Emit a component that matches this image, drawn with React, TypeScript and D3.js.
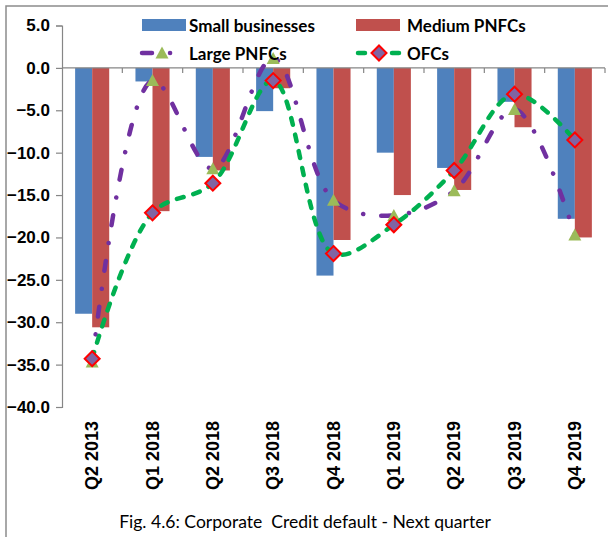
import React, { useEffect, useRef } from 'react';
import * as d3 from 'd3';

const categories = ['Q2 2013', 'Q1 2018', 'Q2 2018', 'Q3 2018', 'Q4 2018', 'Q1 2019', 'Q2 2019', 'Q3 2019', 'Q4 2019'];
const smallBusinesses = [-29.0, -1.6, -10.5, -5.1, -24.5, -10.0, -11.8, -4.0, -17.8];
const mediumPNFCs = [-30.6, -16.9, -12.1, -2.4, -20.3, -15.0, -14.4, -7.0, -20.0];
const largePNFCs = [-34.7, -1.5, -11.9, 1.1, -15.6, -17.4, -14.5, -4.9, -19.7];
const ofcs = [-34.3, -17.1, -13.6, -1.5, -21.9, -18.5, -12.1, -3.1, -8.5];
const yTicks = [5, 0, -5, -10, -15, -20, -25, -30, -35, -40];
const title = 'Fig. 4.6: Corporate  Credit default - Next quarter';

const W = 608;
const H = 537;
const humanist = 'Lato, "Open Sans", sans-serif';
const wide = '"Liberation Sans", Arial, sans-serif';

// shrink / grow a text so it spans the width seen in the reference
const fitWidth = (sel: any, target: number) => {
  const node = sel.node() as SVGTextElement;
  const w = node.getComputedTextLength();
  const fs = +sel.attr('font-size');
  if (w > 0) sel.attr('font-size', (fs * target) / w);
  return +sel.attr('font-size');
};

const App = () => {
  const svgRef = useRef<SVGSVGElement>(null);

  useEffect(() => {
    const svg = d3.select(svgRef.current);
    svg.selectAll('*').remove();

    const margin = { top: 25.5, right: 3, bottom: 130, left: 62 };

    // frame of the chart area
    svg.append('rect')
      .attr('x', 6).attr('y', 6)
      .attr('width', 640).attr('height', 600)
      .attr('fill', 'white')
      .attr('stroke', '#8c8c8c')
      .attr('stroke-width', 1.5);

    const x = d3.scaleBand()
      .domain(categories)
      .range([margin.left, W - margin.right]);
    const x1 = d3.scaleBand()
      .domain(['small', 'medium'])
      .range([0, x.bandwidth()])
      .paddingOuter(0.77);
    const y = d3.scaleLinear()
      .domain([5, -40])
      .range([margin.top, H - margin.bottom]);

    const cx = (c: string) => (x(c) as number) + x.bandwidth() / 2;

    // bars
    const bars = svg.append('g');
    const barSeries = [
      { key: 'small', values: smallBusinesses, color: '#4F81BD' },
      { key: 'medium', values: mediumPNFCs, color: '#C0504D' },
    ];
    barSeries.forEach(s => {
      bars.selectAll(null)
        .data(s.values)
        .enter()
        .append('rect')
        .attr('x', (d, i) => (x(categories[i]) as number) + (x1(s.key) as number))
        .attr('width', x1.bandwidth())
        .attr('y', d => Math.min(y(0), y(d)))
        .attr('height', d => Math.abs(y(d) - y(0)))
        .attr('fill', s.color);
    });

    // y axis
    const yAxis = d3.axisLeft(y).tickValues(yTicks).tickSize(6).tickPadding(5).tickFormat(d3.format('.1f'));
    const yg = svg.append('g')
      .attr('transform', `translate(${margin.left},0)`)
      .call(yAxis);
    yg.selectAll('path, line').attr('stroke', '#868686').attr('stroke-width', 1.2);
    yg.selectAll('text')
      .attr('font-family', wide)
      .attr('font-weight', 'bold')
      .attr('font-size', 17)
      .attr('fill', '#000')
      .attr('x', -12);

    // x axis along zero
    const xg = svg.append('g');
    xg.append('line')
      .attr('x1', margin.left).attr('x2', W - margin.right)
      .attr('y1', y(0)).attr('y2', y(0))
      .attr('stroke', '#868686').attr('stroke-width', 1.2);
    xg.selectAll('line.tick')
      .data(categories)
      .enter()
      .append('line')
      .attr('class', 'tick')
      .attr('x1', d => (x(d) as number) + x.bandwidth())
      .attr('x2', d => (x(d) as number) + x.bandwidth())
      .attr('y1', y(0)).attr('y2', y(0) + 5)
      .attr('stroke', '#868686').attr('stroke-width', 1.2);

    // category labels at the bottom
    svg.append('g')
      .selectAll('text')
      .data(categories)
      .enter()
      .append('text')
      .attr('transform', d => `translate(${cx(d) + 6},490) rotate(-90)`)
      .attr('font-family', wide)
      .attr('font-weight', 'bold')
      .attr('font-size', 18)
      .attr('fill', '#000')
      .text(d => d);

    // lines
    const line = d3.line<number>()
      .x((d, i) => cx(categories[i]))
      .y(d => y(d))
      .curve(d3.curveCatmullRom.alpha(0.5));

    svg.append('path')
      .datum(largePNFCs)
      .attr('d', line)
      .attr('fill', 'none')
      .attr('stroke', '#7030A0')
      .attr('stroke-width', 4.5)
      .attr('stroke-linecap', 'round')
      .attr('stroke-dasharray', '10 18 0.1 18');

    const tri = 'M0,-6.5L6.5,5.5L-6.5,5.5Z';
    const dia = 'M0,-7.5L7.5,0L0,7.5L-7.5,0Z';

    svg.append('g')
      .selectAll('path')
      .data(largePNFCs)
      .enter()
      .append('path')
      .attr('d', tri)
      .attr('transform', (d, i) => `translate(${cx(categories[i])},${y(d)})`)
      .attr('fill', '#9BBB59');

    svg.append('path')
      .datum(ofcs)
      .attr('d', line)
      .attr('fill', 'none')
      .attr('stroke', '#00B050')
      .attr('stroke-width', 4.5)
      .attr('stroke-linecap', 'round')
      .attr('stroke-dasharray', '7 10');

    svg.append('g')
      .selectAll('path')
      .data(ofcs)
      .enter()
      .append('path')
      .attr('d', dia)
      .attr('transform', (d, i) => `translate(${cx(categories[i])},${y(d)})`)
      .attr('fill', '#8064A2')
      .attr('stroke', '#FF0000')
      .attr('stroke-width', 2);

    // legend
    const legend = svg.append('g');
    const items = [
      { label: 'Small businesses', x: 142, y: 25, tx: 47, kind: 'bar', color: '#4F81BD' },
      { label: 'Medium PNFCs', x: 356, y: 25, tx: 51, kind: 'bar', color: '#C0504D' },
      { label: 'Large PNFCs', x: 140, y: 53, tx: 49, kind: 'large', color: '#7030A0' },
      { label: 'OFCs', x: 356, y: 53, tx: 51, kind: 'ofc', color: '#00B050' },
    ];
    let legendSize = 18;
    items.forEach((it, k) => {
      const g = legend.append('g').attr('transform', `translate(${it.x},${it.y})`);
      if (it.kind === 'bar') {
        g.append('rect').attr('x', 0).attr('y', -6).attr('width', 44).attr('height', 12).attr('fill', it.color);
      } else if (it.kind === 'large') {
        g.append('line').attr('x1', 2).attr('x2', 44).attr('y1', 0).attr('y2', 0)
          .attr('stroke', it.color).attr('stroke-width', 4.5).attr('stroke-linecap', 'round')
          .attr('stroke-dasharray', '10 18 0.1 18');
        g.append('path').attr('d', tri).attr('transform', 'translate(22,0)').attr('fill', '#9BBB59');
      } else {
        g.append('line').attr('x1', 2).attr('x2', 46).attr('y1', 0).attr('y2', 0)
          .attr('stroke', it.color).attr('stroke-width', 4.5).attr('stroke-linecap', 'round')
          .attr('stroke-dasharray', '7 10');
        g.append('path').attr('d', dia).attr('transform', 'translate(23,0)')
          .attr('fill', '#8064A2').attr('stroke', '#FF0000').attr('stroke-width', 2);
      }
      const t = g.append('text')
        .attr('x', it.tx)
        .attr('y', 6.5)
        .attr('font-family', humanist)
        .attr('font-weight', 'bold')
        .attr('font-size', legendSize)
        .attr('fill', '#000')
        .text(it.label);
      if (k === 0) legendSize = fitWidth(t, 126);
    });

    // caption
    const cap = svg.append('text')
      .attr('x', 305)
      .attr('y', 528)
      .attr('text-anchor', 'middle')
      .attr('font-family', humanist)
      .attr('font-size', 19)
      .attr('fill', '#000')
      .style('white-space', 'pre')
      .text(title);
    fitWidth(cap, 372);
  }, []);

  return (
    <svg
      ref={svgRef}
      width={W}
      height={H}
      style={{ position: 'absolute', left: 0, top: 0, background: 'white' }}
    />
  );
};

export default App;
